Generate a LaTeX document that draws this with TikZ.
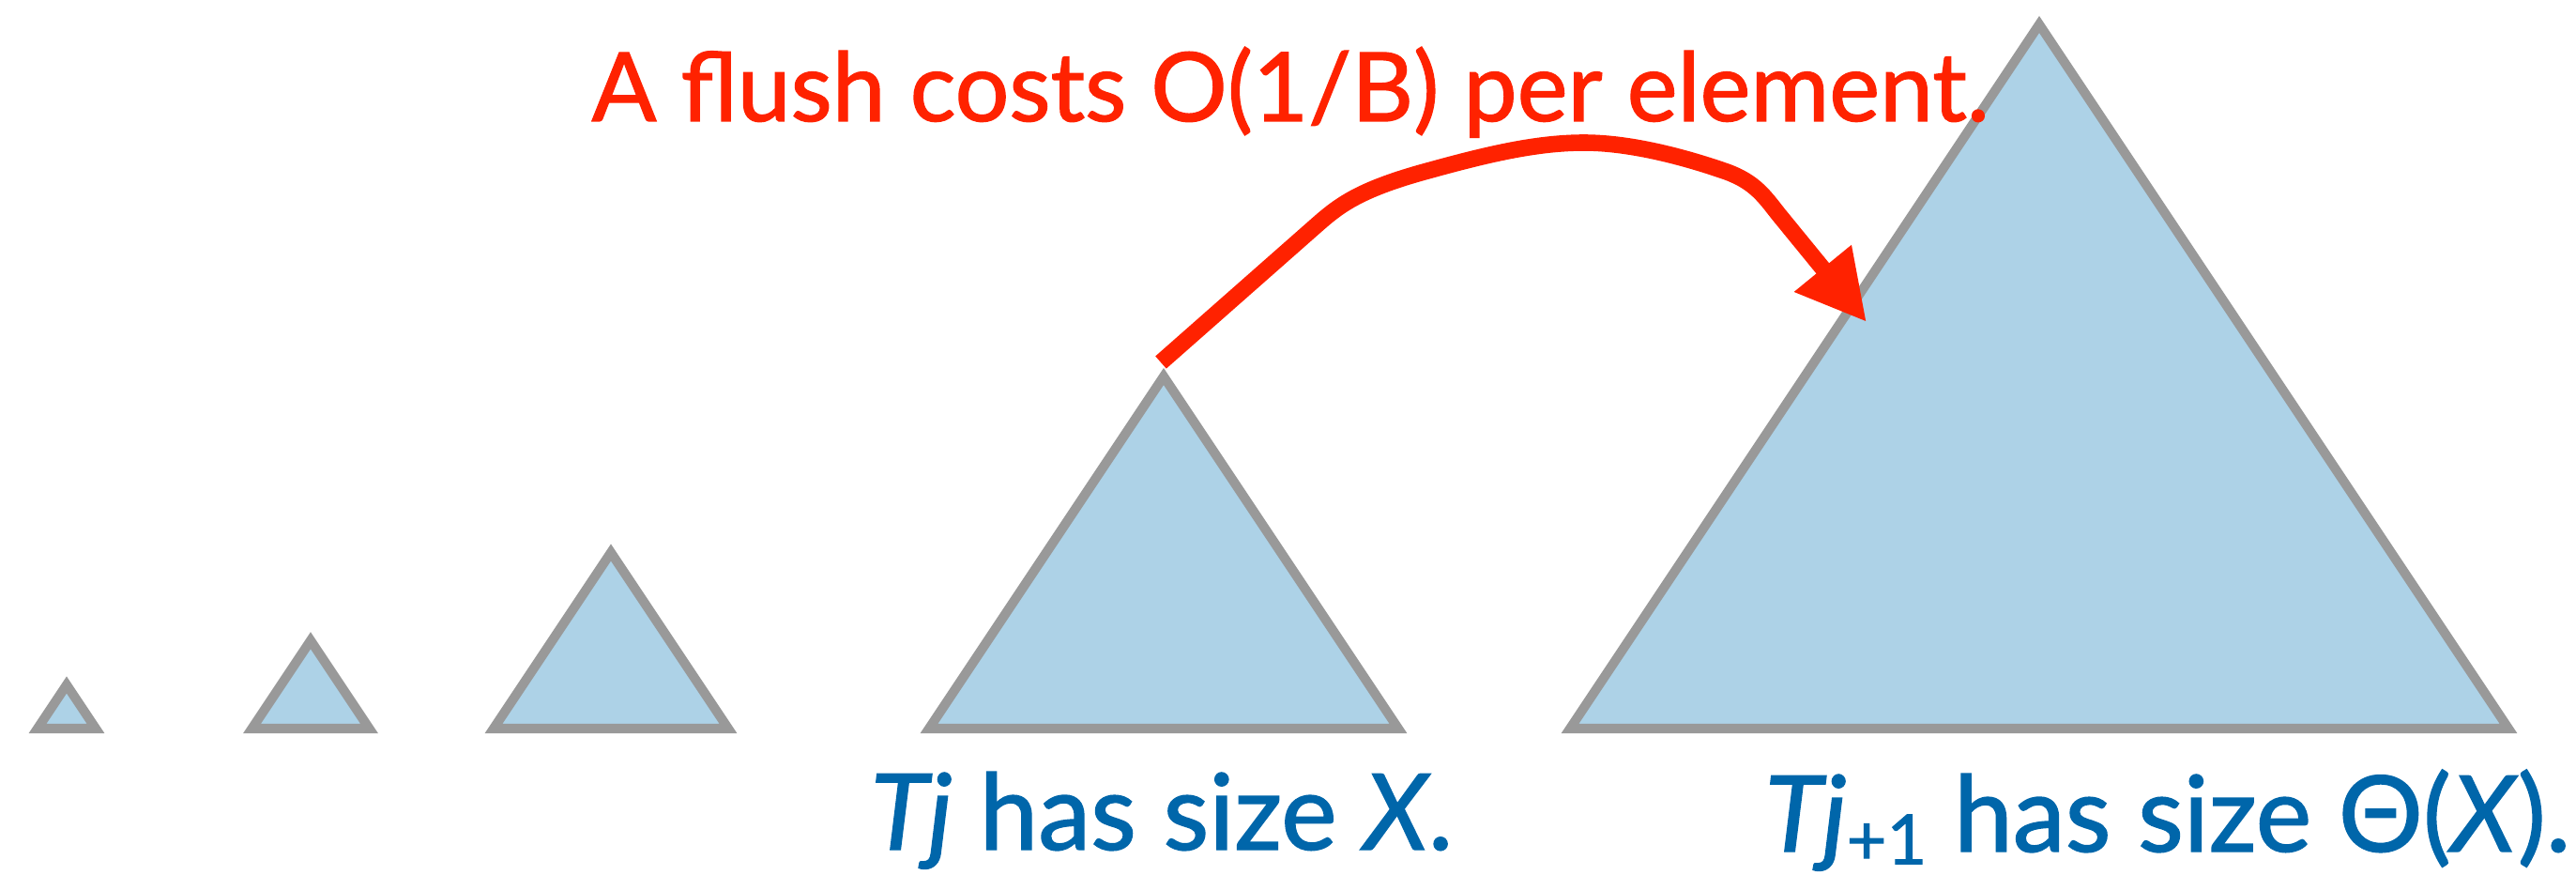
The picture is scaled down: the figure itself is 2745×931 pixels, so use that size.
\documentclass[tikz,border=0pt]{standalone}
\usepackage{fontspec}
\setmainfont{Lato}[FakeBold=1.3]
\usetikzlibrary{arrows.meta,positioning}
\definecolor{flushred}{HTML}{FF2200}
\definecolor{labelblue}{HTML}{0066AA}
\definecolor{treefill}{HTML}{ADD2E7}
\definecolor{treeedge}{HTML}{999999}

\begin{document}
\begin{tikzpicture}[x=0.1mm,y=0.1mm,
  tree/.style={draw=treeedge,fill=treefill,line width=2.85pt,line join=miter},
  flush/.style={draw=flushred,line width=5pt,-{Triangle[length=21pt,width=21pt]}},
  lbl/.style={text=labelblue,font=\fontsize{32}{38}\selectfont,inner sep=0pt,anchor=base},
  note/.style={text=flushred,font=\fontsize{29}{35}\selectfont,inner sep=0pt,anchor=base}]
  \useasboundingbox (0,0) rectangle (2745,931);
  % trees, each one twice as wide as the one before
  \foreach \c/\w [count=\i] in {71/62,331/125,651/250,1240/500,2173/1000}{
    \coordinate (t\i) at (\c,155+0.75*\w);
    \draw[tree] (\c-\w/2,155) -- (t\i) -- (\c+\w/2,155) -- cycle;
  }
  \coordinate (src) at ([shift={(-3,15)}]t4);
  \coordinate (dst) at (1989,588);
  \draw[flush] (src) -- (1405,693) .. controls (1428,713) and (1450,730) .. (1525,750)
    .. controls (1590,768) and (1640,779) .. (1688,779)
    .. controls (1740,779) and (1800,762) .. (1840,748)
    .. controls (1870,737) and (1880,722) .. (1895,703) -- (dst);
  \node[note] (cost) at (1375,802) {A flush costs O(1/B) per element.};
  \node[lbl] (tj) at (1238,26) {\textit{Tj} has size \textit{X}.};
  \node[lbl] (tjnext) at (2310,24) {\textit{Tj}\raisebox{-0.12em}{\fontsize{21}{25}\selectfont +1} has size Θ(\textit{X}).};
\end{tikzpicture}
\end{document}
